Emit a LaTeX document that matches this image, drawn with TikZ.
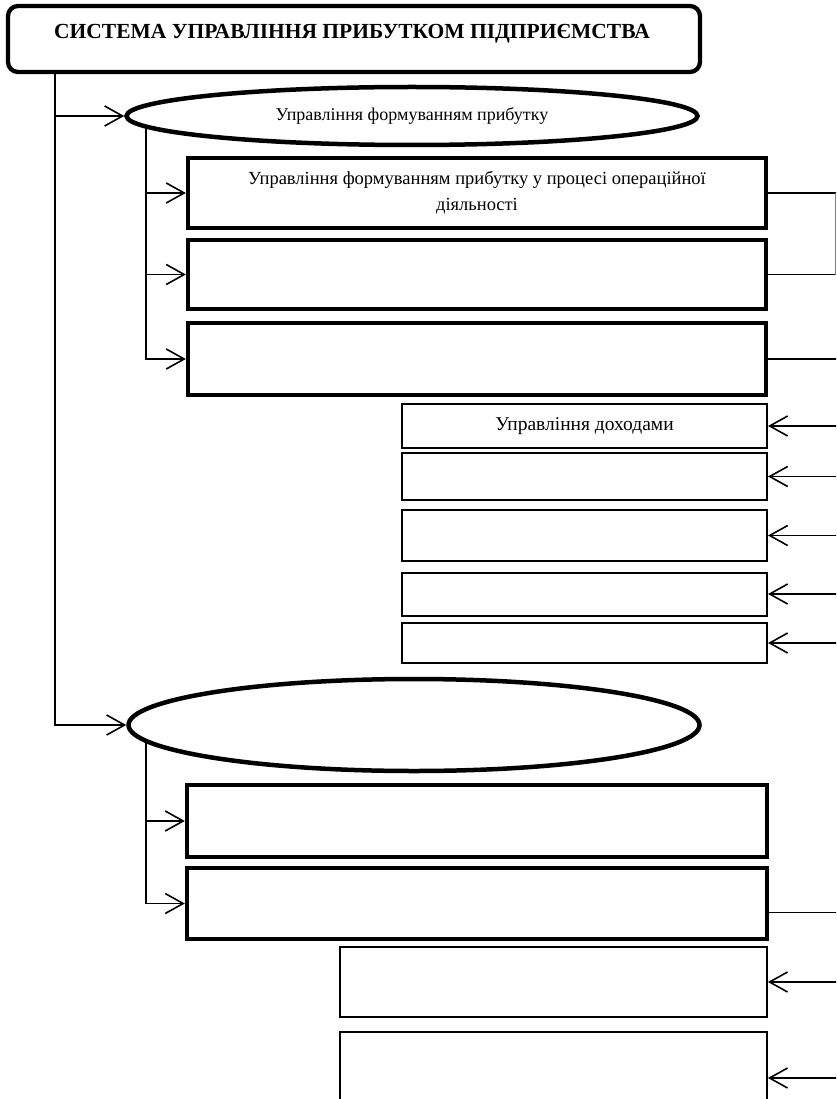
\documentclass[tikz,border=0pt]{standalone}
\usepackage{fontspec}
\setmainfont{Liberation Serif}
\usetikzlibrary{shapes.geometric,arrows.meta}

\begin{document}
\begin{tikzpicture}[x=1pt,y=-1pt,
    conn/.style={line width=1.4pt},
    arr/.style={conn,-{Straight Barb[length=18pt,width=20pt,line width=1.6pt]}},
    thickbox/.style={draw,line width=4.3pt,inner sep=0pt,minimum width=578pt},
    thinbox/.style={draw,line width=2pt,inner sep=0pt},
    oval/.style={draw,ellipse,line width=4.5pt,inner sep=0pt,minimum width=571pt},
    txt/.style={font=\fontsize{18.5}{26}\selectfont}]
  \useasboundingbox (0,0) rectangle (836,1099);
  \clip (0,0) rectangle (836,1099);

  % top level
  \node[draw,line width=4.3pt,rounded corners=10pt,minimum width=692pt,minimum height=66pt] (sys) at (354,39) {};
  \node[font=\bfseries\fontsize{21.5}{24}\selectfont] (systxt) at (352,34) {СИСТЕМА УПРАВЛІННЯ ПРИБУТКОМ ПІДПРИЄМСТВА};

  \node[oval,minimum height=58pt,txt,font=\fontsize{18}{22}\selectfont] (form) at (412,116) {Управління формуванням прибутку};
  \node[oval,minimum height=92pt] (dist) at (414,725) {};

  % boxes under the first oval
  \node[thickbox,minimum height=70pt,txt,align=center] (form1) at (477,193) {Управління формуванням прибутку у процесі операційної\\діяльності};
  \node[thickbox,minimum height=69pt] (form2) at (477,274.5) {};
  \node[thickbox,minimum height=72pt] (form3) at (477,359) {};

  \node[thinbox,minimum width=365pt,minimum height=44pt,txt,font=\fontsize{19.5}{24}\selectfont] (sub1) at (584.5,426) {Управління доходами};
  \node[thinbox,minimum width=365pt,minimum height=47pt] (sub2) at (584.5,476.5) {};
  \node[thinbox,minimum width=365pt,minimum height=51pt] (sub3) at (584.5,535.5) {};
  \node[thinbox,minimum width=365pt,minimum height=43pt] (sub4) at (584.5,594) {};
  \node[thinbox,minimum width=365pt,minimum height=40pt] (sub5) at (584.5,643) {};

  % boxes under the second oval
  \node[thickbox,minimum width=580pt,minimum height=72pt] (dist1) at (477,821) {};
  \node[thickbox,minimum width=580pt,minimum height=71pt] (dist2) at (477,903.5) {};
  \node[thinbox,line width=1.8pt,minimum width=427pt,minimum height=70pt] (low1) at (553.5,982) {};
  \node[thinbox,line width=1.8pt,minimum width=427pt,minimum height=92pt] (low2) at (553.5,1078) {};

  \coordinate (trunk) at (55,72);
  \coordinate (br1) at (146,127);
  \coordinate (br2) at (146,741);
  \coordinate (edge) at (842,0);
  \coordinate (rim) at (835,0);

  \draw[arr] (trunk) |- (form.west);
  \draw[arr] (trunk) |- (dist.west);
  \foreach \b in {form1,form2,form3}
    \draw[arr] (br1) |- (\b.west);
  \foreach \b in {dist1,dist2}
    \draw[arr] (br2) |- (\b.west);

  \foreach \b in {form1,form2,form3}
    \draw[conn] (\b.east) -- (\b.east -| edge);
  \draw[conn] ([yshift=-9pt]dist2.east) -- ([yshift=-9pt]dist2.east -| edge);
  \draw[line width=0.8pt,black!50] (form1.east -| rim) -- (form2.east -| rim);

  \foreach \s in {sub1,sub2,sub3,sub4,sub5,low1,low2}
    \draw[arr] (\s.east -| edge) -- (\s.east);
\end{tikzpicture}
\end{document}
